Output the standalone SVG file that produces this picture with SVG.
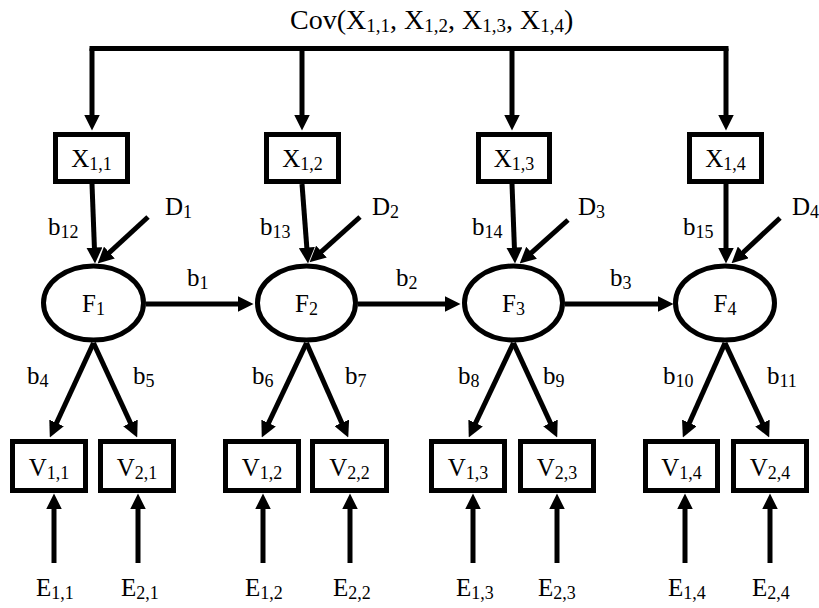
<svg xmlns="http://www.w3.org/2000/svg" width="819" height="608" viewBox="0 0 819 608">
<style>
.box{fill:#fff;stroke:#000;stroke-width:5}
.ell{fill:#fff;stroke:#000;stroke-width:5}
.ln{fill:none;stroke:#000;stroke-width:5;marker-end:url(#ah)}
.bar{fill:none;stroke:#000;stroke-width:5;stroke-linecap:square}
.tx{font-family:"Liberation Serif","Times New Roman",serif;font-size:25px;fill:#000}
.c{text-anchor:middle}
.s{font-size:18px}
.cov{font-family:"Liberation Serif","Times New Roman",serif;font-size:28px;fill:#000}
.cs{font-size:19px}
</style>
<defs>
<marker id="ah" markerUnits="userSpaceOnUse" markerWidth="16" markerHeight="16" viewBox="0 0 15 15" refX="7" refY="7.5" orient="auto">
<path d="M0,0 L15,7.5 L0,15 z" fill="#000"/>
</marker>
</defs>
<rect width="819" height="608" fill="#fff"/>
<g id="connectors">
<path class="bar" d="M92,48.5 H726"/>
<path class="ln" d="M92,48.5 V122"/>
<path class="ln" d="M302,48.5 V122"/>
<path class="ln" d="M512,48.5 V122"/>
<path class="ln" d="M726,48.5 V122"/>
<line class="ln" x1="92" y1="184" x2="94.7" y2="255"/>
<line class="ln" x1="302" y1="184" x2="307.4" y2="255"/>
<line class="ln" x1="512" y1="184" x2="514.7" y2="255"/>
<line class="ln" x1="726" y1="184" x2="726" y2="255"/>
<line class="ln" x1="148" y1="217" x2="103.9" y2="257.6"/>
<line class="ln" x1="360" y1="217" x2="315.9" y2="256.6"/>
<line class="ln" x1="568" y1="220" x2="526" y2="257.7"/>
<line class="ln" x1="780" y1="218" x2="737.8" y2="257.5"/>
<line class="ln" x1="146" y1="304" x2="245" y2="304"/>
<line class="ln" x1="358" y1="304" x2="452" y2="304"/>
<line class="ln" x1="565" y1="304" x2="665" y2="304"/>
<line class="ln" x1="93.5" y1="343" x2="53.4" y2="429.7"/>
<line class="ln" x1="93.5" y1="343" x2="133.6" y2="429.7"/>
<line class="ln" x1="306.5" y1="343" x2="265.4" y2="429.8"/>
<line class="ln" x1="306.5" y1="343" x2="344.8" y2="429.7"/>
<line class="ln" x1="513.5" y1="343" x2="472.4" y2="429.8"/>
<line class="ln" x1="513.5" y1="343" x2="553.6" y2="429.7"/>
<line class="ln" x1="725" y1="343" x2="686.3" y2="429.7"/>
<line class="ln" x1="725" y1="343" x2="765.6" y2="429.8"/>
<line class="ln" x1="54" y1="563" x2="54" y2="502"/>
<line class="ln" x1="138" y1="563" x2="138" y2="502"/>
<line class="ln" x1="263" y1="563" x2="263" y2="502"/>
<line class="ln" x1="350" y1="563" x2="350" y2="502"/>
<line class="ln" x1="473" y1="563" x2="473" y2="502"/>
<line class="ln" x1="557" y1="563" x2="557" y2="502"/>
<line class="ln" x1="685" y1="563" x2="685" y2="502"/>
<line class="ln" x1="770" y1="563" x2="770" y2="502"/>
</g>
<g id="cov-label">
<text class="cov" x="290" y="29">Cov(X<tspan class="cs" dy="3">1,1</tspan><tspan dy="-3">, X</tspan><tspan class="cs" dy="3">1,2</tspan><tspan dy="-3">, X</tspan><tspan class="cs" dy="3">1,3</tspan><tspan dy="-3">, X</tspan><tspan class="cs" dy="3">1,4</tspan><tspan dy="-3">)</tspan></text>
</g>
<g id="X11"><rect class="box" x="55.5" y="134.5" width="72" height="47"/><text class="tx c" x="91.5" y="167">X<tspan class="s" dy="3">1,1</tspan></text></g>
<g id="X12"><rect class="box" x="266.5" y="134.5" width="72" height="47"/><text class="tx c" x="302.5" y="167">X<tspan class="s" dy="3">1,2</tspan></text></g>
<g id="X13"><rect class="box" x="478.5" y="134.5" width="71" height="47"/><text class="tx c" x="514" y="167">X<tspan class="s" dy="3">1,3</tspan></text></g>
<g id="X14"><rect class="box" x="689.5" y="134.5" width="72" height="47"/><text class="tx c" x="725.5" y="167">X<tspan class="s" dy="3">1,4</tspan></text></g>
<g id="F1"><ellipse class="ell" cx="93.5" cy="303" rx="50" ry="37"/><text class="tx c" x="93.5" y="312">F<tspan class="s" dy="3">1</tspan></text></g>
<g id="F2"><ellipse class="ell" cx="306.5" cy="303" rx="49" ry="37"/><text class="tx c" x="306.5" y="312">F<tspan class="s" dy="3">2</tspan></text></g>
<g id="F3"><ellipse class="ell" cx="513.5" cy="303" rx="49" ry="37"/><text class="tx c" x="513.5" y="312">F<tspan class="s" dy="3">3</tspan></text></g>
<g id="F4"><ellipse class="ell" cx="725" cy="303" rx="49.5" ry="37"/><text class="tx c" x="725" y="312">F<tspan class="s" dy="3">4</tspan></text></g>
<g id="V11"><rect class="box" x="12.5" y="441.5" width="73" height="49"/><text class="tx c" x="49" y="476">V<tspan class="s" dy="3">1,1</tspan></text></g>
<g id="V21"><rect class="box" x="100.5" y="441.5" width="73" height="49"/><text class="tx c" x="137" y="476">V<tspan class="s" dy="3">2,1</tspan></text></g>
<g id="V12"><rect class="box" x="225.5" y="441.5" width="73" height="49"/><text class="tx c" x="262" y="476">V<tspan class="s" dy="3">1,2</tspan></text></g>
<g id="V22"><rect class="box" x="312.5" y="441.5" width="74" height="49"/><text class="tx c" x="349.5" y="476">V<tspan class="s" dy="3">2,2</tspan></text></g>
<g id="V13"><rect class="box" x="431.5" y="441.5" width="73" height="49"/><text class="tx c" x="468" y="476">V<tspan class="s" dy="3">1,3</tspan></text></g>
<g id="V23"><rect class="box" x="520.5" y="441.5" width="73" height="49"/><text class="tx c" x="557" y="476">V<tspan class="s" dy="3">2,3</tspan></text></g>
<g id="V14"><rect class="box" x="645.5" y="441.5" width="72" height="49"/><text class="tx c" x="681.5" y="476">V<tspan class="s" dy="3">1,4</tspan></text></g>
<g id="V24"><rect class="box" x="733.5" y="441.5" width="73" height="49"/><text class="tx c" x="770" y="476">V<tspan class="s" dy="3">2,4</tspan></text></g>
<g id="D1"><text class="tx" x="165" y="215">D<tspan class="s" dy="3">1</tspan></text></g>
<g id="D2"><text class="tx" x="372" y="215">D<tspan class="s" dy="3">2</tspan></text></g>
<g id="D3"><text class="tx" x="578" y="215">D<tspan class="s" dy="3">3</tspan></text></g>
<g id="D4"><text class="tx" x="792" y="215">D<tspan class="s" dy="3">4</tspan></text></g>
<g id="E11"><text class="tx" x="36" y="596">E<tspan class="s" dy="3">1,1</tspan></text></g>
<g id="E21"><text class="tx" x="121" y="596">E<tspan class="s" dy="3">2,1</tspan></text></g>
<g id="E12"><text class="tx" x="245" y="596">E<tspan class="s" dy="3">1,2</tspan></text></g>
<g id="E22"><text class="tx" x="333" y="596">E<tspan class="s" dy="3">2,2</tspan></text></g>
<g id="E13"><text class="tx" x="456" y="596">E<tspan class="s" dy="3">1,3</tspan></text></g>
<g id="E23"><text class="tx" x="538" y="596">E<tspan class="s" dy="3">2,3</tspan></text></g>
<g id="E14"><text class="tx" x="668" y="596">E<tspan class="s" dy="3">1,4</tspan></text></g>
<g id="E24"><text class="tx" x="752" y="596">E<tspan class="s" dy="3">2,4</tspan></text></g>
<g id="path-labels">
<text class="tx" x="48" y="235">b<tspan class="s" dy="3">12</tspan></text>
<text class="tx" x="260" y="235">b<tspan class="s" dy="3">13</tspan></text>
<text class="tx" x="472" y="235">b<tspan class="s" dy="3">14</tspan></text>
<text class="tx" x="683" y="235">b<tspan class="s" dy="3">15</tspan></text>
<text class="tx" x="187" y="286">b<tspan class="s" dy="3">1</tspan></text>
<text class="tx" x="396" y="286">b<tspan class="s" dy="3">2</tspan></text>
<text class="tx" x="610" y="286">b<tspan class="s" dy="3">3</tspan></text>
<text class="tx" x="27" y="384">b<tspan class="s" dy="3">4</tspan></text>
<text class="tx" x="133" y="384">b<tspan class="s" dy="3">5</tspan></text>
<text class="tx" x="252" y="384">b<tspan class="s" dy="3">6</tspan></text>
<text class="tx" x="345" y="384">b<tspan class="s" dy="3">7</tspan></text>
<text class="tx" x="458" y="384">b<tspan class="s" dy="3">8</tspan></text>
<text class="tx" x="543" y="384">b<tspan class="s" dy="3">9</tspan></text>
<text class="tx" x="663" y="384">b<tspan class="s" dy="3">10</tspan></text>
<text class="tx" x="767" y="384">b<tspan class="s" dy="3">11</tspan></text>
</g>
</svg>
